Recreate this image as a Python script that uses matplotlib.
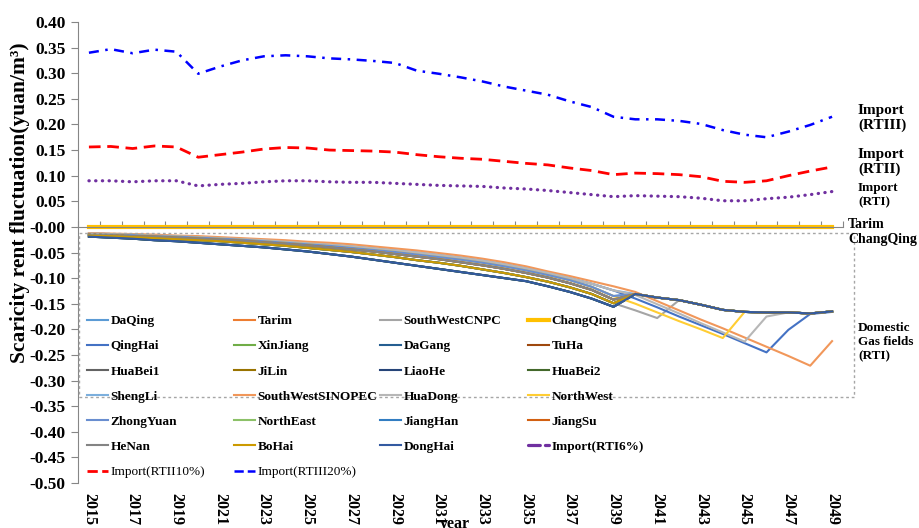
import numpy as np
import matplotlib
matplotlib.use('Agg')
import matplotlib.pyplot as plt
from matplotlib.lines import Line2D
from matplotlib.patches import Rectangle
from matplotlib.ticker import FormatStrFormatter

plt.rcParams['font.family'] = ['Liberation Serif', 'DejaVu Serif']
plt.rcParams['font.weight'] = 'bold'

W, H = 919, 528

# 年 (カテゴリ軸)
years = list(range(2015, 2050))

# 輸入ガス (RTI / RTII / RTIII)
import_rti6 = [0.090, 0.090, 0.088, 0.090, 0.090, 0.080, 0.083, 0.085, 0.088, 0.090,
               0.090, 0.088, 0.087, 0.087, 0.085, 0.083, 0.081, 0.080, 0.079, 0.076,
               0.074, 0.071, 0.067, 0.063, 0.059, 0.061, 0.060, 0.059, 0.056, 0.051,
               0.051, 0.055, 0.058, 0.063, 0.069]
import_rtii10 = [0.156, 0.157, 0.153, 0.158, 0.156, 0.136, 0.141, 0.146, 0.152, 0.155,
                 0.154, 0.150, 0.149, 0.148, 0.146, 0.141, 0.137, 0.134, 0.132, 0.128,
                 0.124, 0.121, 0.115, 0.110, 0.102, 0.105, 0.104, 0.102, 0.098, 0.089,
                 0.087, 0.090, 0.100, 0.109, 0.117]
import_rtiii20 = [0.340, 0.347, 0.339, 0.346, 0.342, 0.299, 0.313, 0.325, 0.333, 0.335,
                  0.333, 0.329, 0.327, 0.324, 0.320, 0.305, 0.299, 0.292, 0.284, 0.274,
                  0.266, 0.258, 0.245, 0.234, 0.215, 0.210, 0.210, 0.207, 0.201, 0.189,
                  0.180, 0.175, 0.186, 0.199, 0.215]

# 国内ガス田: 2015-2039 の推移 (上から順)
head_a = [-0.012, -0.013, -0.014, -0.015, -0.017, -0.018, -0.020, -0.022, -0.024, -0.026,
          -0.029, -0.031, -0.034, -0.038, -0.042, -0.046, -0.051, -0.056, -0.062, -0.069,
          -0.077, -0.087, -0.096, -0.106, -0.116]
head_b = [-0.013, -0.014, -0.015, -0.017, -0.018, -0.020, -0.022, -0.024, -0.026, -0.029,
          -0.032, -0.035, -0.038, -0.042, -0.046, -0.050, -0.055, -0.060, -0.066, -0.073,
          -0.081, -0.090, -0.100, -0.111, -0.124]
head_c = [-0.014, -0.015, -0.016, -0.018, -0.019, -0.021, -0.023, -0.025, -0.028, -0.031,
          -0.034, -0.037, -0.041, -0.045, -0.049, -0.054, -0.059, -0.064, -0.070, -0.077,
          -0.085, -0.094, -0.104, -0.117, -0.135]
head_d = [-0.015, -0.016, -0.018, -0.019, -0.021, -0.023, -0.025, -0.027, -0.030, -0.033,
          -0.036, -0.040, -0.044, -0.048, -0.053, -0.058, -0.063, -0.069, -0.075, -0.082,
          -0.090, -0.099, -0.110, -0.123, -0.142]
head_e = [-0.017, -0.018, -0.020, -0.022, -0.024, -0.026, -0.028, -0.031, -0.034, -0.037,
          -0.041, -0.045, -0.049, -0.054, -0.059, -0.065, -0.070, -0.076, -0.083, -0.090,
          -0.098, -0.107, -0.118, -0.131, -0.149]
head_f = [-0.019, -0.021, -0.023, -0.026, -0.028, -0.031, -0.034, -0.037, -0.040, -0.044,
          -0.048, -0.053, -0.058, -0.064, -0.070, -0.076, -0.082, -0.088, -0.094, -0.100,
          -0.106, -0.116, -0.127, -0.140, -0.156]

# 2040-2049 の推移
floor_tail = [-0.131, -0.138, -0.143, -0.152, -0.162, -0.166, -0.167, -0.167, -0.169, -0.165]
swsinopec_tail = [-0.127, -0.145, -0.163, -0.181, -0.198, -0.216, -0.234, -0.252, -0.271, -0.223]
qinghai_tail = [-0.140, -0.157, -0.175, -0.192, -0.209, -0.227, -0.245, -0.201, -0.170, -0.166]
huadong_tail = [-0.133, -0.151, -0.169, -0.188, -0.206, -0.224, -0.175, -0.167, -0.169, -0.165]
northwest_tail = [-0.150, -0.167, -0.184, -0.200, -0.217, -0.166, -0.167, -0.167, -0.169, -0.165]
swcnpc_tail = [-0.163, -0.178, -0.143, -0.152, -0.162, -0.166, -0.167, -0.167, -0.169, -0.165]
zero_line = [0.0] * 35

fields = ['DaQing', 'Tarim', 'SouthWestCNPC', 'ChangQing',
          'QingHai', 'XinJiang', 'DaGang', 'TuHa',
          'HuaBei1', 'JiLin', 'LiaoHe', 'HuaBei2',
          'ShengLi', 'SouthWestSINOPEC', 'HuaDong', 'NorthWest',
          'ZhongYuan', 'NorthEast', 'JiangHan', 'JiangSu',
          'HeNan', 'BoHai', 'DongHai']
field_colors = ['#5B9BD5', '#ED7D31', '#A5A5A5', '#FFC000',
                '#4472C4', '#70AD47', '#255E91', '#9E480E',
                '#636363', '#997300', '#264478', '#43682B',
                '#7CAFDD', '#F1975A', '#B7B7B7', '#FFCD33',
                '#698ED0', '#8CC168', '#327DC2', '#D26012',
                '#848484', '#CC9A00', '#335AA1']
field_values = [head_c + floor_tail, zero_line, head_e + swcnpc_tail, zero_line,
                head_b + qinghai_tail, head_e + floor_tail, head_f + floor_tail, head_d + floor_tail,
                head_d + floor_tail, head_e + floor_tail, head_f + floor_tail, head_f + floor_tail,
                head_b + floor_tail, head_a + swsinopec_tail, head_b + huadong_tail, head_c + northwest_tail,
                head_c + floor_tail, head_d + floor_tail, head_e + floor_tail, head_d + floor_tail,
                head_d + floor_tail, head_e + floor_tail, head_f + floor_tail]

fig = plt.figure(figsize=(W / 100, H / 100), dpi=100)
ax = fig.add_axes([78 / W, 1 - 483 / H, (843 - 78) / W, (483 - 22) / H])
x = np.arange(len(years))

handles = {}
for name, col, vals in zip(fields, field_colors, field_values):
    lw = 3.0 if name == 'ChangQing' else 1.5
    ln, = ax.plot(x, vals, color=col, lw=lw)
    handles[name] = ln

h6, = ax.plot(x, import_rti6, color='#7030A0', lw=2.3, ls=(0, (0.1, 2.0)),
              dash_capstyle='round')
h10, = ax.plot(x, import_rtii10, color='#FF0000', lw=2.0, ls=(0, (4.2, 2.4)))
h20, = ax.plot(x, import_rtiii20, color='#0000FF', lw=1.8, ls=(0, (4.0, 2.6, 1.0, 2.6)))
handles['Import(RTI6%)'] = h6
handles['Import(RTII10%)'] = h10
handles['Import(RTIII20%)'] = h20

# 軸
ax.set_xlim(-0.5, len(years) - 0.5)
ax.set_ylim(-0.5, 0.4)
ax.set_yticks(np.arange(-0.5, 0.401, 0.05))
ax.yaxis.set_major_formatter(FormatStrFormatter('%.2f'))
ax.tick_params(axis='y', direction='out', length=5, color='#868686', labelsize=12.5, pad=4)
ax.spines['left'].set_color('#868686')
ax.spines['top'].set_visible(False)
ax.spines['right'].set_visible(False)
ax.spines['bottom'].set_position(('data', 0))
ax.spines['bottom'].set_color('#868686')
ax.set_xticks(np.arange(-0.5, len(years), 1))
ax.tick_params(axis='x', direction='in', length=4, color='#868686', labelbottom=False)

sec = ax.secondary_xaxis('bottom')
sec.set_xticks(x[::2])
sec.set_xticklabels([str(y) for y in years[::2]], rotation=-90, fontsize=11.5)
sec.tick_params(length=0, pad=7)
sec.spines['bottom'].set_visible(False)

fig.text(20 / W, 1 - 203 / H, 'Scaricity rent fluctuation(yuan/m³)', rotation=90,
         ha='center', va='center', fontsize=15.5)
fig.text(455 / W, 1 - 516 / H, 'year', ha='center', va='top', fontsize=11.5)

# 点線の枠
fig.add_artist(Rectangle((79 / W, 1 - 397 / H), (854 - 79) / W, (397 - 233) / H,
                         transform=fig.transFigure, fill=False, ec='#A6A6A6',
                         lw=1.0, ls=(0, (2, 2))))

# 右側の注記
fig.text(858 / W, 1 - 118 / H, 'Import\n(RTIII)', ha='left', va='center', fontsize=11,
         linespacing=1.2)
fig.text(858 / W, 1 - 162 / H, 'Import\n(RTII)', ha='left', va='center', fontsize=11,
         linespacing=1.2)
fig.text(858 / W, 1 - 195 / H, 'Import\n(RTI)', ha='left', va='center', fontsize=9.5,
         linespacing=1.25)
fig.text(848 / W, 1 - 232 / H, 'Tarim\nChangQing', ha='left', va='center', fontsize=10,
         linespacing=1.2)
fig.text(858 / W, 1 - 342 / H, 'Domestic\nGas fields\n(RTI)', ha='left', va='center',
         fontsize=9.5, linespacing=1.2)

# 凡例 (4列)
order = ['DaQing', 'Tarim', 'SouthWestCNPC', 'ChangQing',
         'QingHai', 'XinJiang', 'DaGang', 'TuHa',
         'HuaBei1', 'JiLin', 'LiaoHe', 'HuaBei2',
         'ShengLi', 'SouthWestSINOPEC', 'HuaDong', 'NorthWest',
         'ZhongYuan', 'NorthEast', 'JiangHan', 'JiangSu',
         'HeNan', 'BoHai', 'DongHai', 'Import(RTI6%)',
         'Import(RTII10%)', 'Import(RTIII20%)']
col_x = [87, 234, 380, 528]
for c in range(4):
    names = order[c::4]
    hs = []
    for n in names:
        src = handles[n]
        hs.append(Line2D([], [], color=src.get_color(), lw=src.get_linewidth(),
                         ls=src.get_linestyle(), dash_capstyle=src.get_dash_capstyle()))
    leg = fig.legend(hs, names, loc='upper left', bbox_to_anchor=(col_x[c] / W, 1 - 315 / H),
                     frameon=False, fontsize=9.5, handlelength=1.6, handletextpad=0.2,
                     labelspacing=0.98, borderpad=0, borderaxespad=0)
    for t in leg.get_texts():
        if t.get_text() in ('Import(RTII10%)', 'Import(RTIII20%)'):
            t.set_fontweight('normal')

fig.savefig('out.png', dpi=100)
